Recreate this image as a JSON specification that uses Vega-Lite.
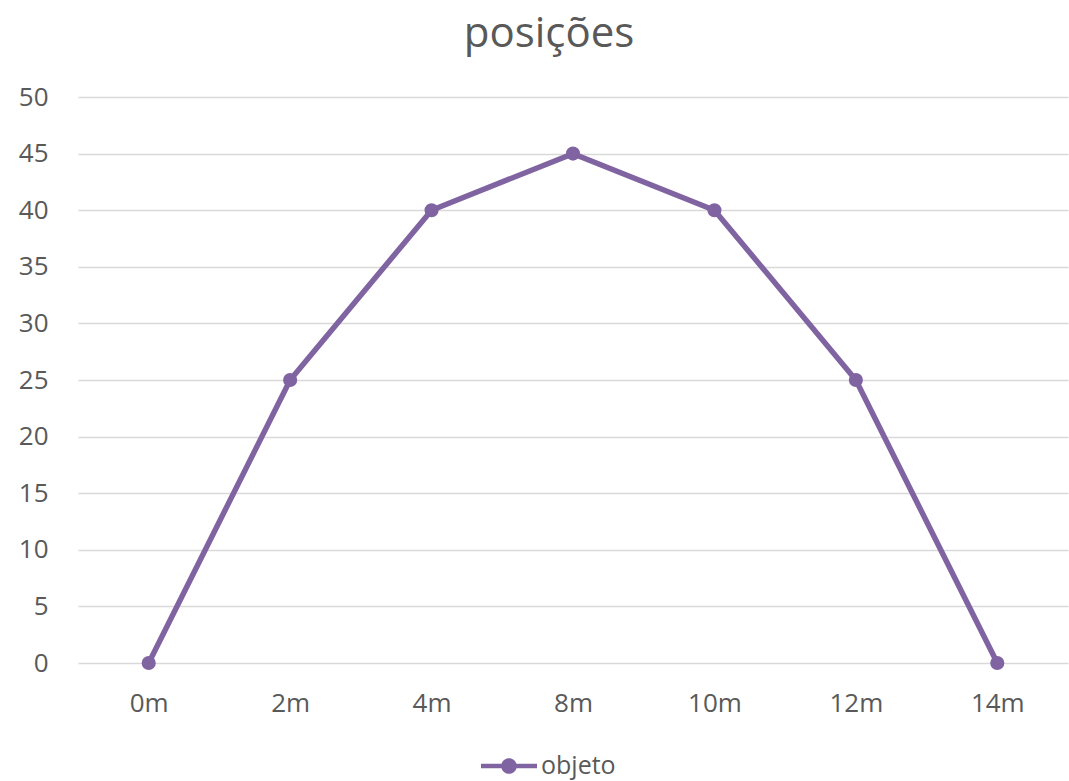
{
  "$schema": "https://vega.github.io/schema/vega-lite/v6.json",
  "autosize": {"type": "none"},
  "width": 990,
  "height": 566,
  "padding": {"left": 78, "top": 97, "right": 1, "bottom": 118},
  "background": "white",
  "title": {"text": "posições", "font": "Open Sans", "fontSize": 42, "fontWeight": "normal", "color": "#595959", "anchor": "middle", "dx": -24, "baseline": "alphabetic", "offset": 49, "dy": 54},
  "data": {"values": [
    {"pos": "0m", "valor": 0, "serie": "objeto"},
    {"pos": "2m", "valor": 25, "serie": "objeto"},
    {"pos": "4m", "valor": 40, "serie": "objeto"},
    {"pos": "8m", "valor": 45, "serie": "objeto"},
    {"pos": "10m", "valor": 40, "serie": "objeto"},
    {"pos": "12m", "valor": 25, "serie": "objeto"},
    {"pos": "14m", "valor": 0, "serie": "objeto"}
  ]},
  "config": {
    "view": {"stroke": null},
    "axis": {"labelFont": "Open Sans", "labelFontSize": 26, "labelColor": "#595959", "domain": false, "ticks": false, "gridColor": "#D9D9D9", "gridWidth": 1.5}
  },
  "encoding": {
    "x": {"field": "pos", "type": "ordinal", "sort": null, "scale": {"type": "point", "padding": 0.5}, "axis": {"title": null, "labelAngle": 0, "grid": false, "labelPadding": 27}},
    "y": {"field": "valor", "type": "quantitative", "scale": {"domain": [0, 50], "nice": false}, "axis": {"title": null, "values": [0, 5, 10, 15, 20, 25, 30, 35, 40, 45, 50], "labelPadding": 30}},
    "color": {"field": "serie", "type": "nominal", "scale": {"range": ["#8064A2"]}, "legend": {"title": null, "orient": "none", "legendX": 403, "legendY": 641, "direction": "horizontal", "labelFont": "Open Sans", "labelFontSize": 25, "labelColor": "#595959", "symbolType": "M-1,-0.08L1,-0.08L1,0.08L-1,0.08Z M0.28,0 A0.28,0.28 0 1,1 -0.28,0 A0.28,0.28 0 1,1 0.28,0 Z", "symbolSize": 3136, "symbolStrokeWidth": 0, "symbolOpacity": 1, "labelOffset": 4}}
  },
  "layer": [
    {"mark": {"type": "line", "strokeWidth": 5.5}},
    {"mark": {"type": "point", "filled": true, "size": 200, "opacity": 1}}
  ]
}
